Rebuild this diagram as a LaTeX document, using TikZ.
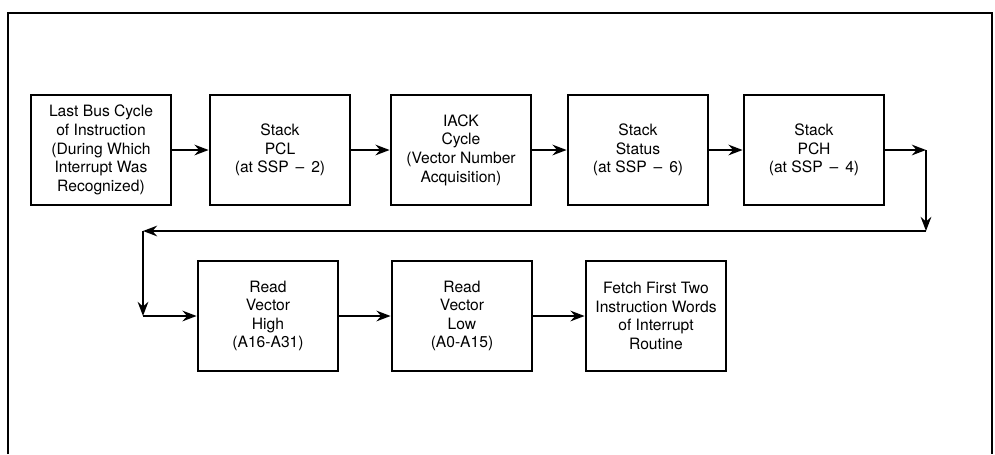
\documentclass[tikz,border=0pt]{standalone}
\usepackage{fontspec}
\setmainfont{TeX Gyre Heros}
\usetikzlibrary{arrows.meta}

\begin{document}
\begin{tikzpicture}[x=0.02cm, y=-0.02cm, >={Stealth[length=8pt, width=6pt]},
  stepbox/.style={draw, line width=1.6pt, minimum width=2.8cm, minimum height=2.2cm,
    align=center, inner sep=2pt, font=\fontsize{8.9}{10.6}\selectfont},
  flow/.style={->, line width=1.5pt}]
  \useasboundingbox (0,0) rectangle (995,454);
  % Frame, open at the bottom
  \draw[line width=1.1pt] (8,454) -- (8,13) -- (992,13) -- (992,454);
  % Top row
  \node[stepbox] (lastbus) at (101,150) {Last Bus Cycle\\of Instruction\\(During Which\\Interrupt Was\\Recognized)};
  \node[stepbox] (pcl) at (280,150) {Stack\\PCL\\(at SSP\ \,--\ \,2)};
  \node[stepbox] (iack) at (461,150) {IACK\\Cycle\\(Vector Number\\Acquisition)};
  \node[stepbox] (status) at (638,150) {Stack\\Status\\(at SSP\ \,--\ \,6)};
  \node[stepbox] (pch) at (814,150) {Stack\\PCH\\(at SSP\ \,--\ \,4)};
  % Bottom row
  \node[stepbox] (vhigh) at (268,316) {Read\\Vector\\High\\(A16-A31)};
  \node[stepbox] (vlow) at (462,316) {Read\\Vector\\Low\\(A0-A15)};
  \node[stepbox] (fetch) at (656,316) {Fetch First Two\\Instruction Words\\of Interrupt\\Routine};
  % Corners of the return path
  \coordinate (turnA) at (926,150);
  \coordinate (turnB) at (926,231);
  \coordinate (turnC) at (143,231);
  \coordinate (turnD) at (143,316);
  % Arrows
  \draw[flow] (lastbus) -- (pcl);
  \draw[flow] (pcl) -- (iack);
  \draw[flow] (iack) -- (status);
  \draw[flow] (status) -- (pch);
  \draw[flow] (pch) -- (turnA);
  \draw[flow] (turnA) -- (turnB);
  \draw[flow] (turnB) -- (turnC);
  \draw[flow] (turnC) -- (turnD);
  \draw[flow] (turnD) -- (vhigh);
  \draw[flow] (vhigh) -- (vlow);
  \draw[flow] (vlow) -- (fetch);
\end{tikzpicture}
\end{document}
